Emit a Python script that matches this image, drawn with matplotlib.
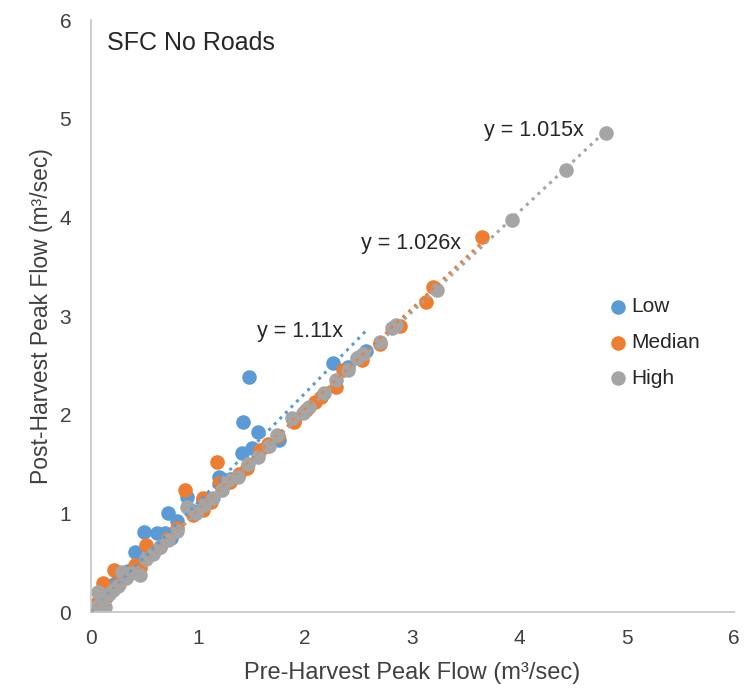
import matplotlib.pyplot as plt
import numpy as np

plt.rcParams['font.family'] = ['Liberation Sans', 'DejaVu Sans']

# pre-harvest (x) vs post-harvest (y) peak flow, m3/sec
low_x = [0.0, 0.02, 0.04, 0.06, 0.08, 0.10, 0.12, 0.15, 0.18, 0.22, 0.26, 0.30, 0.35, 0.41, 0.45,
         0.50, 0.55, 0.62, 0.69, 0.72, 0.75, 0.80, 0.90, 0.95, 1.05, 1.11, 1.20, 1.30, 1.41, 1.42,
         1.48, 1.50, 1.56, 1.65, 1.76, 1.90, 2.26, 2.40, 2.50, 2.57]
low_y = [0.0, 0.03, 0.06, 0.05, 0.12, 0.14, 0.15, 0.20, 0.22, 0.28, 0.33, 0.38, 0.42, 0.61, 0.50,
         0.81, 0.62, 0.80, 0.80, 1.00, 0.75, 0.92, 1.17, 1.02, 1.14, 1.13, 1.37, 1.35, 1.61, 1.93,
         2.38, 1.66, 1.82, 1.68, 1.74, 1.94, 2.52, 2.48, 2.58, 2.65]

med_x = [0.0, 0.02, 0.05, 0.08, 0.11, 0.14, 0.18, 0.22, 0.26, 0.30, 0.35, 0.41, 0.46, 0.52, 0.58,
         0.65, 0.72, 0.80, 0.88, 0.95, 1.05, 1.05, 1.12, 1.20, 1.18, 1.30, 1.38, 1.46, 1.58, 1.65,
         1.75, 1.90, 2.01, 2.09, 2.15, 2.29, 2.35, 2.53, 2.70, 2.88, 3.13, 3.19, 3.65]
med_y = [0.0, 0.05, 0.08, 0.12, 0.29, 0.15, 0.20, 0.43, 0.28, 0.35, 0.38, 0.48, 0.45, 0.68, 0.60,
         0.66, 0.75, 0.85, 1.24, 0.98, 1.16, 1.03, 1.12, 1.31, 1.52, 1.32, 1.40, 1.46, 1.64, 1.70,
         1.78, 1.93, 2.05, 2.13, 2.18, 2.28, 2.45, 2.55, 2.72, 2.90, 3.14, 3.29, 3.80]

high_x = [0.0, 0.03, 0.07, 0.10, 0.13, 0.17, 0.21, 0.25, 0.29, 0.33, 0.38, 0.46, 0.52, 0.58, 0.65,
          0.72, 0.80, 0.90, 0.98, 1.06, 1.14, 1.22, 1.28, 1.37, 1.47, 1.56, 1.66, 1.74, 1.88, 1.98,
          2.04, 2.18, 2.29, 2.40, 2.48, 2.54, 2.70, 2.81, 2.85, 3.23, 3.93, 4.43, 4.81]
high_y = [0.0, 0.04, 0.20, 0.10, 0.05, 0.18, 0.22, 0.26, 0.41, 0.34, 0.40, 0.38, 0.54, 0.59, 0.66,
          0.73, 0.82, 1.06, 1.00, 1.08, 1.16, 1.24, 1.34, 1.37, 1.50, 1.57, 1.68, 1.79, 1.97, 2.02,
          2.08, 2.22, 2.35, 2.45, 2.57, 2.62, 2.74, 2.88, 2.91, 3.26, 3.97, 4.48, 4.85]

names = ['Low', 'Median', 'High']
slopes = [1.11, 1.026, 1.015]
colors = ['#5B9BD5', '#ED7D31', '#A5A5A5']
# where the trendline equations sit (data coords)
eq_pos = [(1.95, 2.84), (2.99, 3.74), (4.13, 4.88)]

fig = plt.figure(figsize=(7.56, 6.9), dpi=100)
ax = fig.add_axes([0.120, 0.113, 0.851, 0.858])

series = [(low_x, low_y), (med_x, med_y), (high_x, high_y)]
for (xs, ys), name, c in zip(series, names, colors):
    ax.scatter(xs, ys, s=110, color=c, label=name, zorder=2, linewidths=0)

# linear trendlines through the origin
for (xs, ys), k, c, pos in zip(series, slopes, colors, eq_pos):
    xl = np.array([0, max(xs)])
    ax.plot(xl, k * xl, linestyle=(0, (1, 1.6)), color=c, lw=2.2, zorder=3)
    ax.text(pos[0], pos[1], 'y = {}x'.format(k), ha='center', va='center',
            fontsize=15.5, color='#262626')

ax.text(0.15, 5.77, 'SFC No Roads', fontsize=18, color='#262626', va='center')

ax.set_xlim(0, 6)
ax.set_ylim(0, 6)
ax.set_xticks(range(7))
ax.set_yticks(range(7))
ax.tick_params(length=0, labelsize=15, colors='#404040')
ax.tick_params(axis='x', pad=12)
ax.tick_params(axis='y', pad=14)
for side in ['top', 'right']:
    ax.spines[side].set_visible(False)
for side in ['left', 'bottom']:
    ax.spines[side].set_color('#C8C8C8')
    ax.spines[side].set_linewidth(1.3)

ax.set_xlabel('Pre-Harvest Peak Flow (m\u00b3/sec)', fontsize=17, color='#404040', labelpad=10)
ax.set_ylabel('Post-Harvest Peak Flow (m\u00b3/sec)', fontsize=16.5, color='#404040', labelpad=5)

ax.legend(loc='center left', bbox_to_anchor=(0.775, 0.455), frameon=False, fontsize=15,
          handlelength=1.0, handletextpad=0.1, labelspacing=0.8, markerscale=1.0,
          labelcolor='#262626')

plt.savefig('out.png')
